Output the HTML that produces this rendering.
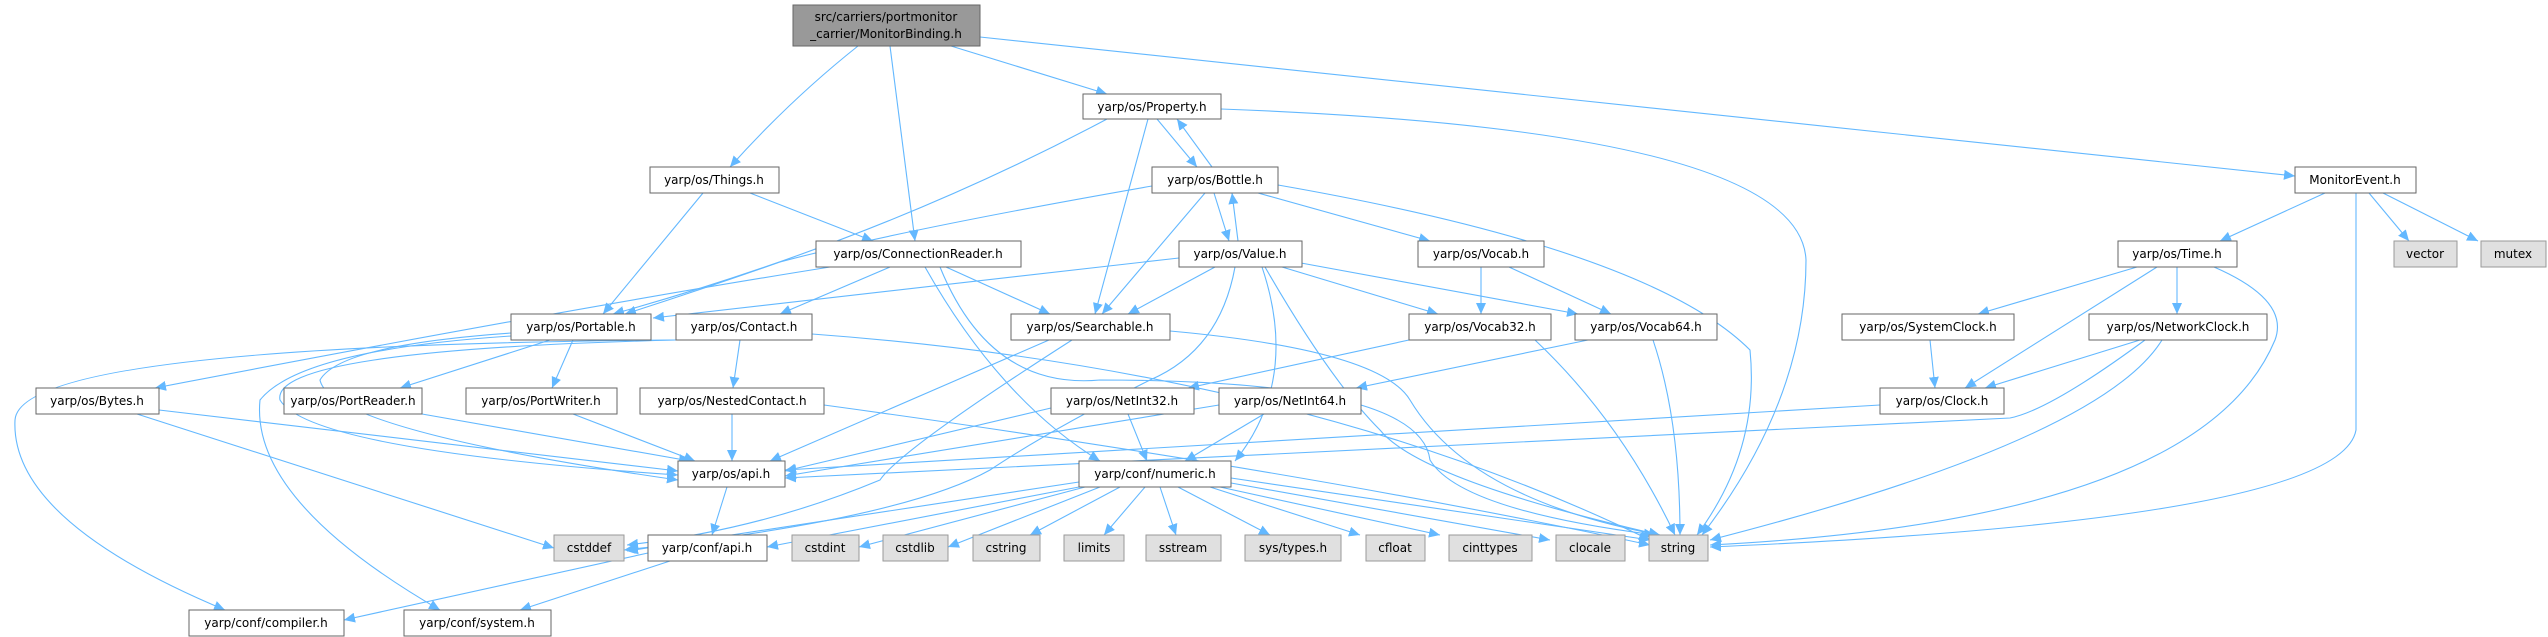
<!DOCTYPE html>
<html><head><meta charset="utf-8"><style>
html,body{margin:0;padding:0;background:#fff;}
svg{display:block;}
text{font-family:"DejaVu Sans","Liberation Sans",sans-serif;font-size:12px;fill:#000;}
</style></head><body>
<svg width="2548" height="637" viewBox="0 0 2548 637" xmlns="http://www.w3.org/2000/svg">
<defs><marker id="a" markerUnits="userSpaceOnUse" markerWidth="12" markerHeight="10" refX="11" refY="5" orient="auto"><path d="M0,0 L11,5 L0,10 z" fill="#63b8ff"/></marker></defs>
<g fill="none" stroke="#63b8ff" stroke-width="1.1" marker-end="url(#a)">
<path d="M858,46 Q790,100 730,167"/>
<path d="M890,46 L915,241"/>
<path d="M951,46 L1107,94"/>
<path d="M980,37 L2295,176"/>
<path d="M703,193 L603,314"/>
<path d="M750,193 L873,241"/>
<path d="M1107,119 Q880,240 613,314"/>
<path d="M1148,119 L1095,314"/>
<path d="M1157,119 L1197,167"/>
<path d="M1212,167 L1177,119"/>
<path d="M1221,109 Q1800,130 1806,260 Q1806,400 1702,535"/>
<path d="M1152,186 Q900,230 780,262 Q700,290 625,314"/>
<path d="M1205,193 L1102,314"/>
<path d="M1214,193 L1229,241"/>
<path d="M1238,241 L1232,193"/>
<path d="M1258,193 L1430,241"/>
<path d="M1278,185 Q1650,250 1750,350 Q1760,450 1697,535"/>
<path d="M830,267 Q560,310 155,388"/>
<path d="M890,267 L780,314"/>
<path d="M946,267 L1050,314"/>
<path d="M925,267 Q1000,400 1100,461"/>
<path d="M940,267 Q990,390 1100,380 Q1420,380 1430,460 Q1460,510 1655,535"/>
<path d="M1179,258 L653,318"/>
<path d="M1215,267 L1128,314"/>
<path d="M1282,267 L1438,314"/>
<path d="M1301,263 L1578,314"/>
<path d="M1235,267 Q1220,350 1150,380 Q1050,430 990,470 Q900,520 624,550"/>
<path d="M1262,267 Q1300,380 1235,461"/>
<path d="M1265,267 Q1330,380 1380,430 Q1420,480 1660,535"/>
<path d="M1481,267 L1481,314"/>
<path d="M1509,267 L1611,314"/>
<path d="M511,333 Q340,345 320,380 Q330,430 678,480"/>
<path d="M676,340 Q270,350 280,400 Q310,450 678,475"/>
<path d="M550,340 L400,388"/>
<path d="M573,340 L552,388"/>
<path d="M511,336 Q300,350 260,400 Q250,500 440,610"/>
<path d="M676,340 Q20,345 15,420 Q10,520 225,610"/>
<path d="M740,340 L733,388"/>
<path d="M812,334 Q1300,370 1650,540"/>
<path d="M732,414 L732,461"/>
<path d="M824,405 Q1300,470 1650,545"/>
<path d="M159,410 L678,471"/>
<path d="M137,414 L554,548"/>
<path d="M422,414 L690,461"/>
<path d="M573,414 L695,461"/>
<path d="M727,487 L712,535"/>
<path d="M648,553 L344,620"/>
<path d="M670,561 L520,610"/>
<path d="M1049,340 L770,461"/>
<path d="M1072,340 Q900,450 880,480 Q760,530 627,545"/>
<path d="M1170,331 Q1380,350 1410,400 Q1470,500 1660,535"/>
<path d="M1409,340 L1188,388"/>
<path d="M1588,340 L1356,388"/>
<path d="M1535,340 Q1620,420 1675,535"/>
<path d="M1653,340 Q1680,420 1680,535"/>
<path d="M1051,408 L785,471"/>
<path d="M1128,414 L1147,461"/>
<path d="M1219,405 L785,476"/>
<path d="M1264,414 L1185,461"/>
<path d="M1079,482 Q900,510 627,551"/>
<path d="M1079,487 L767,547"/>
<path d="M1085,487 L859,547"/>
<path d="M1100,487 L948,547"/>
<path d="M1120,487 L1030,535"/>
<path d="M1145,487 L1104,535"/>
<path d="M1160,487 L1176,535"/>
<path d="M1178,487 L1270,535"/>
<path d="M1210,487 L1360,535"/>
<path d="M1220,487 L1440,535"/>
<path d="M1231,483 L1550,540"/>
<path d="M1231,478 L1650,540"/>
<path d="M2325,193 L2220,241"/>
<path d="M2369,193 L2409,241"/>
<path d="M2383,193 L2478,241"/>
<path d="M2356,193 L2356,430 Q2340,520 1710,547"/>
<path d="M2137,267 L1978,314"/>
<path d="M2157,267 L1965,388"/>
<path d="M2177,267 L2177,314"/>
<path d="M2214,267 Q2290,300 2275,340 Q2200,520 1710,545"/>
<path d="M1930,340 L1935,388"/>
<path d="M2140,340 L1985,388"/>
<path d="M2145,340 Q2050,410 2010,418 L785,478"/>
<path d="M2162,340 Q2100,440 1710,540"/>
<path d="M1880,405 L785,470"/>
</g>
<g stroke-width="1">
<rect x="793" y="5" width="187" height="41" fill="#999" stroke="#666"/>
<g fill="#fff" stroke="#666">
<rect x="650" y="167" width="129" height="26"/>
<rect x="816" y="241" width="205" height="26"/>
<rect x="511" y="314" width="140" height="26"/>
<rect x="676" y="314" width="136" height="26"/>
<rect x="36" y="388" width="123" height="26"/>
<rect x="284" y="388" width="138" height="26"/>
<rect x="466" y="388" width="151" height="26"/>
<rect x="640" y="388" width="184" height="26"/>
<rect x="678" y="461" width="107" height="26"/>
<rect x="648" y="535" width="119" height="26"/>
<rect x="189" y="610" width="155" height="26"/>
<rect x="404" y="610" width="147" height="26"/>
<rect x="1083" y="94" width="138" height="25"/>
<rect x="1152" y="167" width="126" height="26"/>
<rect x="2295" y="167" width="121" height="26"/>
<rect x="1179" y="241" width="123" height="26"/>
<rect x="1418" y="241" width="126" height="26"/>
<rect x="2118" y="241" width="119" height="26"/>
<rect x="1011" y="314" width="159" height="26"/>
<rect x="1409" y="314" width="142" height="26"/>
<rect x="1575" y="314" width="142" height="26"/>
<rect x="1842" y="314" width="172" height="26"/>
<rect x="2089" y="314" width="178" height="26"/>
<rect x="1051" y="388" width="143" height="26"/>
<rect x="1219" y="388" width="142" height="26"/>
<rect x="1880" y="388" width="124" height="26"/>
<rect x="1079" y="461" width="152" height="26"/>
</g>
<g fill="#e0e0e0" stroke="#999">
<rect x="554" y="535" width="70" height="26"/>
<rect x="792" y="535" width="67" height="26"/>
<rect x="883" y="535" width="65" height="26"/>
<rect x="973" y="535" width="67" height="26"/>
<rect x="1064" y="535" width="60" height="26"/>
<rect x="1146" y="535" width="75" height="26"/>
<rect x="1245" y="535" width="96" height="26"/>
<rect x="1366" y="535" width="59" height="26"/>
<rect x="1449" y="535" width="83" height="26"/>
<rect x="1556" y="535" width="69" height="26"/>
<rect x="1649" y="535" width="59" height="26"/>
<rect x="2394" y="241" width="63" height="26"/>
<rect x="2481" y="241" width="65" height="26"/>
</g>
</g>
<g text-anchor="middle">
<text x="886" y="21">src/carriers/portmonitor</text>
<text x="886" y="38">_carrier/MonitorBinding.h</text>
<text x="714" y="184">yarp/os/Things.h</text>
<text x="918" y="258">yarp/os/ConnectionReader.h</text>
<text x="581" y="331">yarp/os/Portable.h</text>
<text x="744" y="331">yarp/os/Contact.h</text>
<text x="97" y="405">yarp/os/Bytes.h</text>
<text x="353" y="405">yarp/os/PortReader.h</text>
<text x="541" y="405">yarp/os/PortWriter.h</text>
<text x="732" y="405">yarp/os/NestedContact.h</text>
<text x="731" y="478">yarp/os/api.h</text>
<text x="707" y="552">yarp/conf/api.h</text>
<text x="266" y="627">yarp/conf/compiler.h</text>
<text x="477" y="627">yarp/conf/system.h</text>
<text x="1152" y="111">yarp/os/Property.h</text>
<text x="1215" y="184">yarp/os/Bottle.h</text>
<text x="2355" y="184">MonitorEvent.h</text>
<text x="1240" y="258">yarp/os/Value.h</text>
<text x="1481" y="258">yarp/os/Vocab.h</text>
<text x="2177" y="258">yarp/os/Time.h</text>
<text x="1090" y="331">yarp/os/Searchable.h</text>
<text x="1480" y="331">yarp/os/Vocab32.h</text>
<text x="1646" y="331">yarp/os/Vocab64.h</text>
<text x="1928" y="331">yarp/os/SystemClock.h</text>
<text x="2178" y="331">yarp/os/NetworkClock.h</text>
<text x="1122" y="405">yarp/os/NetInt32.h</text>
<text x="1290" y="405">yarp/os/NetInt64.h</text>
<text x="1942" y="405">yarp/os/Clock.h</text>
<text x="1155" y="478">yarp/conf/numeric.h</text>
<text x="589" y="552">cstddef</text>
<text x="825" y="552">cstdint</text>
<text x="915" y="552">cstdlib</text>
<text x="1006" y="552">cstring</text>
<text x="1094" y="552">limits</text>
<text x="1183" y="552">sstream</text>
<text x="1293" y="552">sys/types.h</text>
<text x="1395" y="552">cfloat</text>
<text x="1490" y="552">cinttypes</text>
<text x="1590" y="552">clocale</text>
<text x="1678" y="552">string</text>
<text x="2425" y="258">vector</text>
<text x="2513" y="258">mutex</text>
</g>
</svg>
</body></html>
